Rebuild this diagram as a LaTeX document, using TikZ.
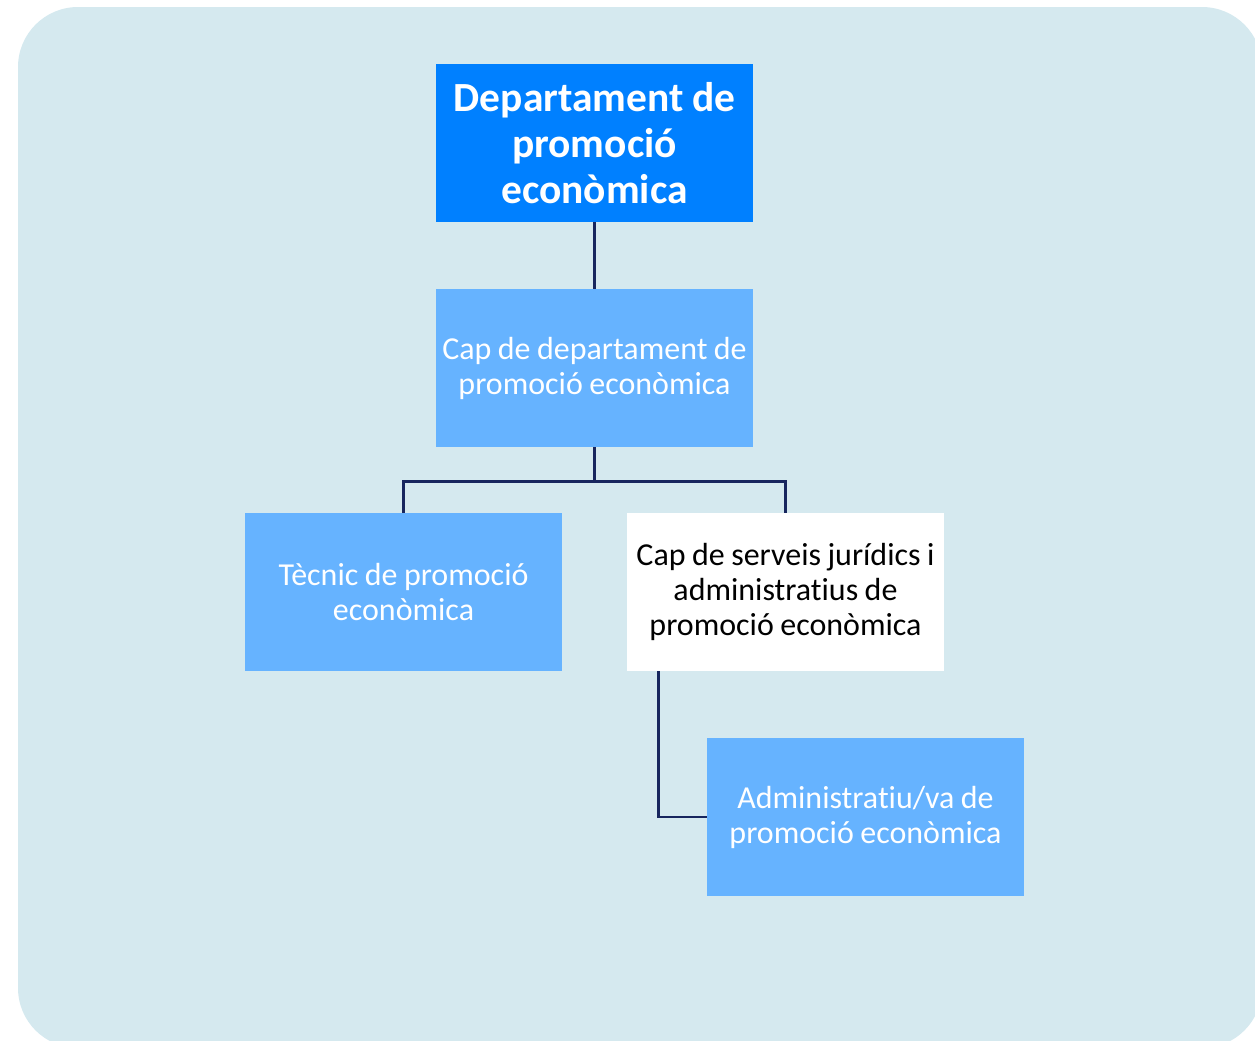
\documentclass[tikz,border=0pt]{standalone}
\usepackage{fontspec}
\setmainfont{Carlito}[Ligatures=NoCommon, WordSpace=0.9]
\usetikzlibrary{positioning, calc}
\definecolor{panel-color}{RGB}{213,233,239}
\definecolor{head-color}{RGB}{0,128,255}
\definecolor{unit-color}{RGB}{102,179,255}
\definecolor{link-color}{RGB}{23,38,94}

\begin{document}
\begin{tikzpicture}[x=0.02cm, y=-0.02cm,
    % Box styles for the org chart
    headbox/.style={fill=head-color, text=white, minimum width=6.34cm, minimum height=3.16cm,
                    align=center, inner sep=0pt, font=\fontsize{23.6}{26.2}\selectfont\bfseries},
    unitbox/.style={fill=unit-color, text=white, minimum width=6.34cm, minimum height=3.16cm,
                    align=center, inner sep=0pt, font=\fontsize{18.2}{19.9}\selectfont},
    plainbox/.style={unitbox, fill=white, text=black},
    link/.style={draw=link-color, line width=1.6pt}
]

% Canvas and light blue panel
\useasboundingbox (0,0) rectangle (1255,1041);
\clip (0,0) rectangle (1255,1041);
\fill[panel-color, rounded corners=1.2cm] (18,7) rectangle (1262,1048);

% Boxes
\node[headbox] (dept) at (594.5,143) {Departament de\\promoció\\econòmica};
\node[unitbox] (cap) at (594.5,368) {Cap de departament de\\promoció econòmica};
\node[unitbox] (tecnic) at (403.5,592) {Tècnic de promoció\\econòmica};
\node[plainbox] (serveis) at (785.5,592) {Cap de serveis jurídics i\\administratius de\\promoció econòmica};
\node[unitbox] (admin) at (865.5,817) {Administratiu/va de\\promoció econòmica};

% Connectors
\draw[link] (dept.south) -- (cap.north);
\draw[link] (cap.south) -- ++(0,34) -| (tecnic.north);
\draw[link] (cap.south) -- ++(0,34) -| (serveis.north);
\draw[link] ($(serveis.south west)+(32,0)$) |- (admin.west);

\end{tikzpicture}
\end{document}
